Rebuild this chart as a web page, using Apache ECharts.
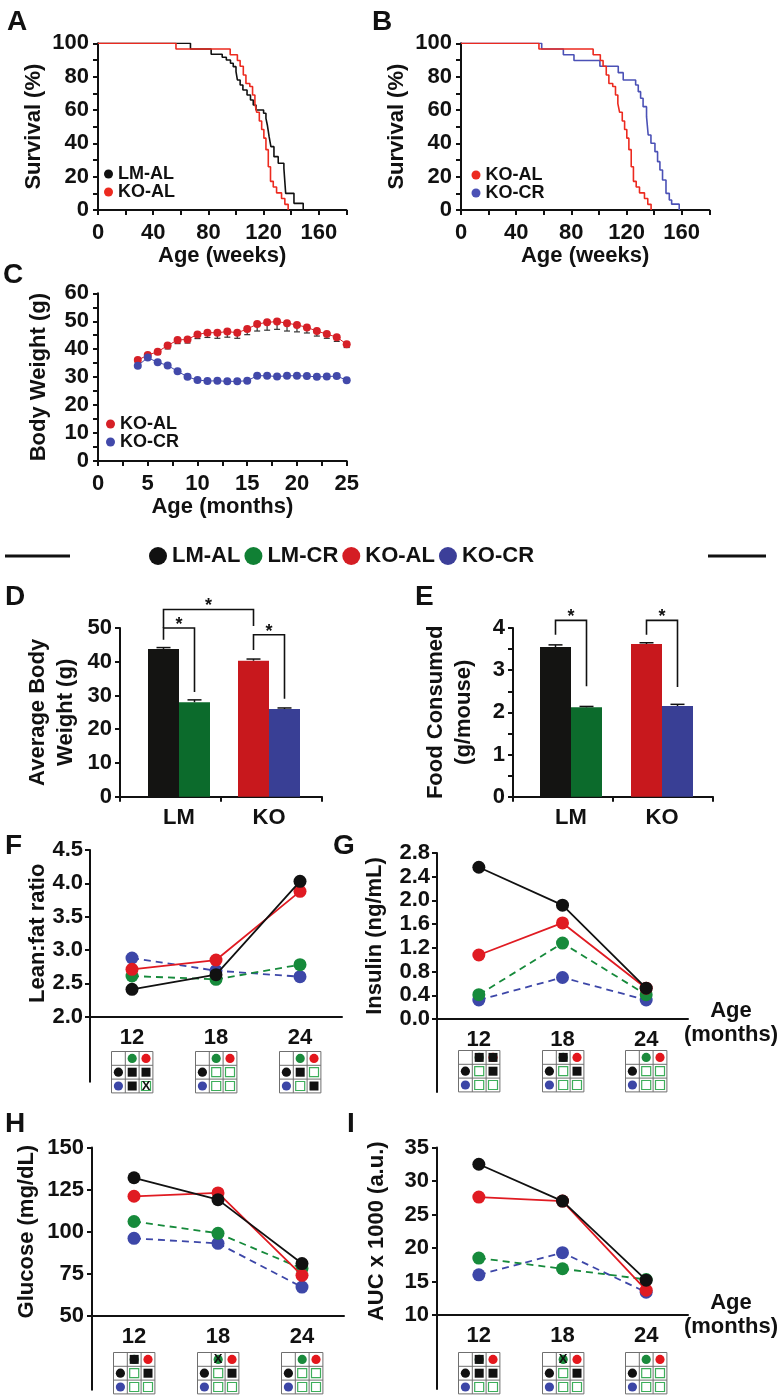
<!DOCTYPE html>
<html>
<head>
<meta charset="utf-8">
<script src="https://cdn.jsdelivr.net/npm/echarts@6/dist/echarts.min.js"></script>
<style>
html,body{margin:0;padding:0;background:#ffffff;}
#chart{width:780px;height:1397px;}
</style>
</head>
<body>
<div id="chart"></div>
<script>
// ================= DATA =================
// Panel A/B: Kaplan-Meier survival (weeks, % surviving after each step)
const survLMAL_t = [0, 67, 82, 90, 93, 96, 98, 100, 101, 103, 105, 108, 110.5, 112.5, 114.5, 120, 121.7, 122.7, 124, 125.3, 127.5, 130.6, 134.7, 136, 142, 148.7];
const survLMAL_s = [100, 96.6, 93.4, 91.6, 90, 88, 86, 83, 78, 75, 72, 69, 66, 63, 60, 58, 55, 51, 44, 38, 32, 28, 25, 10, 4, 0];
const survKOAL_t = [0, 56.5, 95.8, 101, 103, 105.3, 107.2, 110, 112, 113.7, 115, 116.9, 118.6, 120.2, 121.7, 123.4, 125, 127, 129.4, 133, 135.4, 137.8];
const survKOAL_s = [100, 96.6, 93.1, 89.7, 86.2, 81, 75.9, 74.1, 69, 63.8, 58.6, 53.4, 48.3, 43.1, 36.2, 25.9, 17.2, 13.8, 10.3, 6.9, 3.4, 0];
const survKOCR_t = [0, 58.5, 74.2, 81.9, 100.7, 114, 117.6, 126.6, 128.5, 130.2, 132, 134.5, 135.7, 137.7, 140.6, 142.5, 144.2, 146.1, 148.6, 151, 152.7, 158.2];
const survKOCR_s = [100, 96.6, 93.1, 89.7, 86.2, 82.4, 78, 75, 71, 67, 62, 56, 45, 40, 35, 29, 24, 18, 10, 6, 3.5, 0];

// Panel C: body weight by age (months)
const bwMonths  = [4, 5, 6, 7, 8, 9, 10, 11, 12, 13, 14, 15, 16, 17, 18, 19, 20, 21, 22, 23, 24, 25];
const bwKOAL    = [36.1, 37.9, 39.1, 41.3, 43.3, 43.5, 45.3, 45.9, 45.9, 46.3, 45.9, 47.2, 49.0, 49.6, 49.9, 49.3, 48.7, 47.8, 46.5, 45.4, 44.3, 41.8];
const bwKOALerr = [0.8, 0.9, 1.0, 1.2, 1.3, 1.3, 1.5, 1.7, 2.0, 2.0, 2.0, 2.0, 2.5, 2.8, 2.8, 2.8, 2.5, 2.0, 1.8, 1.5, 1.5, 1.2];
const bwKOCR    = [34.1, 37.0, 35.3, 34.2, 32.1, 30.1, 29.0, 28.6, 28.7, 28.5, 28.5, 28.7, 30.5, 30.5, 30.2, 30.5, 30.5, 30.4, 30.1, 30.2, 30.4, 28.9];

// Panels D/E: bar charts
const genotypes = ['LM', 'KO'];
const avgBW_AL    = [43.8, 40.3];
const avgBW_ALerr = [0.4, 0.5];
const avgBW_CR    = [28.0, 26.0];
const avgBW_CRerr = [0.7, 0.3];
const food_AL     = [3.55, 3.62];
const food_ALerr  = [0.05, 0.03];
const food_CR     = [2.12, 2.15];
const food_CRerr  = [0.02, 0.04];

// Panels F-I: age (months)
const ages = [12, 18, 24];
const leanFat_LMAL = [2.41, 2.63, 4.03];
const leanFat_LMCR = [2.61, 2.56, 2.78];
const leanFat_KOAL = [2.71, 2.85, 3.88];
const leanFat_KOCR = [2.88, 2.69, 2.60];
const insulin_LMAL = [2.56, 1.92, 0.52];
const insulin_LMCR = [0.41, 1.28, 0.41];
const insulin_KOAL = [1.08, 1.62, 0.52];
const insulin_KOCR = [0.32, 0.70, 0.32];
const glucose_LMAL = [132, 119, 81];
const glucose_LMCR = [106, 99, 78];
const glucose_KOAL = [121, 123, 74];
const glucose_KOCR = [96, 93, 67];
const auc_LMAL = [32.5, 27.0, 15.2];
const auc_LMCR = [18.5, 16.9, 15.3];
const auc_KOAL = [27.6, 27.0, 13.7];
const auc_KOCR = [16.0, 19.3, 13.4];

// Significance matrices per age: [LMCRhdr, KOALhdr, LMAL-LMCR, LMAL-KOAL, KOCR-LMCR, KOCR-KOAL]
// g/r = header dot, S = filled square, O = open square, X = cross, Sg/Sr/Xg = mark over header dot
const sigF = [['g','r','S','S','S','X'], ['g','r','O','O','O','O'], ['g','r','S','O','O','S']];
const sigG = [['Sg','Sr','O','S','O','O'], ['Sg','r','O','S','O','O'], ['g','r','O','O','O','O']];
const sigH = [['Sg','r','O','S','O','O'], ['Xg','r','O','S','O','O'], ['g','r','O','O','O','O']];
const sigI = [['Sg','r','S','S','O','O'], ['Xg','r','O','S','O','O'], ['g','r','O','O','O','O']];

// ================= STYLE =================
const FONT = '"Liberation Sans", Arial, Helvetica, sans-serif';
const K = '#111111';
const SURV_RED = '#ec2a1f', SURV_BLUE = '#4b51b6';
const C_RED = '#d62027', C_BLUE = '#4249aa';
const BAR_K = '#141412', BAR_G = '#0c6b2c', BAR_R = '#c8181d', BAR_B = '#393f95';
const L_K = '#111111', L_R = '#e01b22', L_G = '#168a3b', L_B = '#3d47a8';
const LEG_K = '#111111', LEG_G = '#108034', LEG_R = '#d41d24', LEG_B = '#3c3f99';
const DOT_G = '#1b8a3c', DOT_R = '#e3161c', DOT_B = '#3c46a6', OPEN_G = '#3dae5a';
const TICK_FS = 22, NAME_FS = 22;

const txt = (size, extra) => Object.assign({fontFamily: FONT, fontWeight: 'bold', fontSize: size, color: K}, extra || {});

function valAxis(g, min, max, interval, fmt, margin, extra) {
  return Object.assign({
    type: 'value', gridIndex: g, min: min, max: max, interval: interval,
    axisLine: {show: true, onZero: false, lineStyle: {color: K, width: 2}},
    axisTick: {show: true, length: 5, lineStyle: {color: K, width: 2}},
    axisLabel: Object.assign(txt(TICK_FS), {margin: margin, formatter: fmt}),
    splitLine: {show: false}
  }, extra || {});
}
function named(name, gap, extra) {
  return {name: name, nameLocation: 'middle', nameGap: gap, nameTextStyle: txt(NAME_FS, extra)};
}
const hiddenX = g => ({type: 'value', gridIndex: g, show: false, min: 0, max: 1});
const extY = g => ({type: 'value', gridIndex: g, min: 0, max: 1,
  axisLine: {show: true, onZero: false, lineStyle: {color: K, width: 2}},
  axisTick: {show: false}, axisLabel: {show: false}, splitLine: {show: false}});

const fmtSurvX = v => (v % 40 === 0 && v <= 160) ? String(v) : '';
const fmtSurvY = v => (v % 20 === 0) ? String(v) : '';
const fmtAge = v => ages.indexOf(v) >= 0 ? String(v) : '';

// ================= GRIDS =================
const grid = [
  {left: 98,  top: 43.3,   width: 248.4, height: 166.7},  // 0 A
  {left: 461, top: 43.3,   width: 248.3, height: 166.7},  // 1 B
  {left: 98,  top: 293.3,  width: 248.7, height: 167.7},  // 2 C
  {left: 120, top: 628,    width: 202,   height: 168.7},  // 3 D frame
  {left: 513, top: 628,    width: 200,   height: 168.7},  // 4 E frame
  {left: 90,  top: 850,    width: 252,   height: 166.7},  // 5 F
  {left: 437, top: 853,    width: 251,   height: 166},    // 6 G
  {left: 92,  top: 1147.5, width: 252,   height: 168.2},  // 7 H
  {left: 437, top: 1147.5, width: 251,   height: 167.5},  // 8 I
  {left: 90,  top: 1016.7, width: 1,     height: 65},     // 9 F ext
  {left: 437, top: 1019,   width: 1,     height: 73},     // 10 G ext
  {left: 92,  top: 1315.7, width: 1,     height: 74},     // 11 H ext
  {left: 437, top: 1315,   width: 1,     height: 74},     // 12 I ext
  {left: 134, top: 628,    width: 180,   height: 168.7},  // 13 D bars
  {left: 525.5, top: 628,  width: 182,   height: 168.7}   // 14 E bars
];
grid.forEach(g => { g.containLabel = false; g.outerBoundsMode = 'none'; });

const ageAxisLabel = Object.assign(txt(TICK_FS), {margin: 10, formatter: fmtAge});

const xAxis = [
  valAxis(0, 0, 180, 20, fmtSurvX, 12, named('Age (weeks)', 33)),
  valAxis(1, 0, 180, 20, fmtSurvX, 12, named('Age (weeks)', 33)),
  valAxis(2, 0, 25, 2.5, v => (v % 5 === 0 ? String(v) : ''), 12, named('Age (months)', 34)),
  {type: 'category', gridIndex: 3, data: genotypes,
   axisLine: {show: true, onZero: false, lineStyle: {color: K, width: 2}},
   axisTick: {show: true, length: 5, interval: 0, lineStyle: {color: K, width: 2}},
   axisLabel: {show: false}},
  {type: 'category', gridIndex: 4, data: genotypes,
   axisLine: {show: true, onZero: false, lineStyle: {color: K, width: 2}},
   axisTick: {show: true, length: 5, interval: 0, lineStyle: {color: K, width: 2}},
   axisLabel: {show: false}},
  valAxis(5, 9, 27, 3, fmtAge, 10, {axisTick: {show: false}, axisLabel: ageAxisLabel}),
  valAxis(6, 9, 27, 3, fmtAge, 10, {axisTick: {show: false}, axisLabel: ageAxisLabel}),
  valAxis(7, 9, 27, 3, fmtAge, 10, {axisTick: {show: false}, axisLabel: ageAxisLabel}),
  valAxis(8, 9, 27, 3, fmtAge, 10, {axisTick: {show: false}, axisLabel: ageAxisLabel}),
  hiddenX(9), hiddenX(10), hiddenX(11), hiddenX(12),
  {type: 'category', gridIndex: 13, data: genotypes, axisLine: {show: false}, axisTick: {show: false},
   axisLabel: Object.assign(txt(TICK_FS), {margin: 10})},
  {type: 'category', gridIndex: 14, data: genotypes, axisLine: {show: false}, axisTick: {show: false},
   axisLabel: Object.assign(txt(TICK_FS), {margin: 10})}
];

const hiddenY = (g, min, max) => ({type: 'value', gridIndex: g, min: min, max: max, show: false});
const yAxis = [
  valAxis(0, 0, 100, 10, fmtSurvY, 9, named('Survival (%)', 53)),
  valAxis(1, 0, 100, 10, fmtSurvY, 9, named('Survival (%)', 53)),
  valAxis(2, 0, 60, 5, v => (v % 10 === 0 ? String(v) : ''), 9, named('Body Weight (g)', 48)),
  valAxis(3, 0, 50, 10, v => String(v), 8, named('Average Body\nWeight (g)', 40, {lineHeight: 28})),
  valAxis(4, 0, 4, 0.5, v => (Number.isInteger(v) ? String(v) : ''), 8, named('Food Consumed\n(g/mouse)', 35, {lineHeight: 28})),
  valAxis(5, 2, 4.5, 0.5, v => v.toFixed(1), 7, named('Lean:fat ratio', 41)),
  valAxis(6, 0, 2.8, 0.4, v => v.toFixed(1), 7, named('Insulin (ng/mL)', 51)),
  valAxis(7, 50, 150, 25, v => String(v), 8, named('Glucose (mg/dL)', 54)),
  valAxis(8, 10, 35, 5, v => String(v), 8, named('AUC x 1000 (a.u.)', 49)),
  extY(9), extY(10), extY(11), extY(12),
  hiddenY(13, 0, 50), hiddenY(14, 0, 4)
];

// ================= SERIES =================
const series = [];
function surv(g, name, t, s, color) {
  return {type: 'line', name: name, xAxisIndex: g, yAxisIndex: g, step: 'end', showSymbol: false, symbol: 'none',
    data: t.map((x, i) => [x, s[i]]), lineStyle: {color: color, width: 1.6}, itemStyle: {color: color}, silent: true, animation: false};
}
series.push(surv(0, 'LM-AL', survLMAL_t, survLMAL_s, K));
series.push(surv(0, 'KO-AL', survKOAL_t, survKOAL_s, SURV_RED));
series.push(surv(1, 'KO-CR', survKOCR_t, survKOCR_s, SURV_BLUE));
series.push(surv(1, 'KO-AL', survKOAL_t, survKOAL_s, SURV_RED));

// Panel C error bars (downward) + lines
series.push({type: 'custom', xAxisIndex: 2, yAxisIndex: 2, silent: true, z: 1,
  data: bwMonths.map((m, i) => [m, bwKOAL[i], bwKOALerr[i]]),
  renderItem: function (params, api) {
    const p = api.coord([api.value(0), api.value(1)]);
    const q = api.coord([api.value(0), api.value(1) - api.value(2)]);
    return {type: 'group', children: [
      {type: 'line', shape: {x1: p[0], y1: p[1], x2: q[0], y2: q[1]}, style: {stroke: '#333', lineWidth: 1.2}},
      {type: 'line', shape: {x1: q[0] - 3, y1: q[1], x2: q[0] + 3, y2: q[1]}, style: {stroke: '#333', lineWidth: 1.2}}
    ]};
  }});
series.push({type: 'line', name: 'KO-AL', xAxisIndex: 2, yAxisIndex: 2, data: bwMonths.map((m, i) => [m, bwKOAL[i]]),
  symbol: 'circle', symbolSize: 8, lineStyle: {color: C_RED, width: 1}, itemStyle: {color: C_RED}, z: 3, animation: false});
series.push({type: 'line', name: 'KO-CR', xAxisIndex: 2, yAxisIndex: 2, data: bwMonths.map((m, i) => [m, bwKOCR[i]]),
  symbol: 'circle', symbolSize: 8, lineStyle: {color: C_BLUE, width: 1}, itemStyle: {color: C_BLUE}, z: 3, animation: false});

// Panels D/E bars
const BARW = 31;
function bars(g, name, vals, colors) {
  return {type: 'bar', name: name, xAxisIndex: g, yAxisIndex: g, barWidth: BARW, barGap: '0%',
    data: vals.map((v, i) => ({value: v, itemStyle: {color: colors[i]}})), animation: false, z: 2};
}
function barErr(g, al, alErr, cr, crErr) {
  const data = [];
  al.forEach((v, i) => data.push([i, v, alErr[i], -1]));
  cr.forEach((v, i) => data.push([i, v, crErr[i], 1]));
  return {type: 'custom', xAxisIndex: g, yAxisIndex: g, silent: true, z: 3, data: data,
    renderItem: function (params, api) {
      const x = api.coord([api.value(0), 0])[0] + api.value(3) * BARW / 2;
      const y1 = api.coord([0, api.value(1)])[1];
      const y2 = api.coord([0, api.value(1) + api.value(2)])[1];
      return {type: 'group', children: [
        {type: 'line', shape: {x1: x, y1: y1, x2: x, y2: y2}, style: {stroke: K, lineWidth: 1.5}},
        {type: 'line', shape: {x1: x - 7, y1: y2, x2: x + 7, y2: y2}, style: {stroke: K, lineWidth: 1.5}}
      ]};
    }};
}
function brackets(g, list) {
  return {type: 'custom', xAxisIndex: g, yAxisIndex: g, silent: true, clip: false, z: 4, data: list,
    renderItem: function (params, api) {
      const xA = api.coord([api.value(0), 0])[0] + api.value(1) * BARW / 2;
      const xB = api.coord([api.value(2), 0])[0] + api.value(3) * BARW / 2;
      const yT = api.coord([0, api.value(4)])[1];
      const yA = api.coord([0, api.value(5)])[1];
      const yB = api.coord([0, api.value(6)])[1];
      return {type: 'group', children: [
        {type: 'polyline', shape: {points: [[xA, yA], [xA, yT], [xB, yT], [xB, yB]]}, style: {stroke: K, lineWidth: 1.6, fill: null}},
        {type: 'text', x: (xA + xB) / 2, y: yT - 3, style: {text: '*', fill: K, fontSize: 18, fontWeight: 'bold', fontFamily: FONT, align: 'center', verticalAlign: 'middle'}}
      ]};
    }};
}
series.push(bars(13, 'AL', avgBW_AL, [BAR_K, BAR_R]));
series.push(bars(13, 'CR', avgBW_CR, [BAR_G, BAR_B]));
series.push(barErr(13, avgBW_AL, avgBW_ALerr, avgBW_CR, avgBW_CRerr));
// [fromCat, fromSide, toCat, toSide, top, fromEnd, toEnd]
series.push(brackets(13, [[0, -1, 1, -1, 55.5, 50, 50.6], [0, -1, 0, 1, 50, 46.5, 31], [1, -1, 1, 1, 48, 43.5, 29]]));
series.push(bars(14, 'AL', food_AL, [BAR_K, BAR_R]));
series.push(bars(14, 'CR', food_CR, [BAR_G, BAR_B]));
series.push(barErr(14, food_AL, food_ALerr, food_CR, food_CRerr));
series.push(brackets(14, [[0, -1, 0, 1, 4.18, 3.84, 2.62], [1, -1, 1, 1, 4.18, 3.84, 2.6]]));

// Panels F-I lines
function ageLine(g, name, vals, color, dashed, z) {
  return {type: 'line', name: name, xAxisIndex: g, yAxisIndex: g, data: ages.map((a, i) => [a, vals[i]]),
    symbol: 'circle', symbolSize: 13, lineStyle: {color: color, width: 1.8, type: dashed ? [7, 5] : 'solid'},
    itemStyle: {color: color}, z: z, animation: false};
}
function panelLines(g, lmal, lmcr, koal, kocr) {
  series.push(ageLine(g, 'KO-CR', kocr, L_B, true, 3));
  series.push(ageLine(g, 'LM-CR', lmcr, L_G, true, 4));
  series.push(ageLine(g, 'KO-AL', koal, L_R, false, 5));
  series.push(ageLine(g, 'LM-AL', lmal, L_K, false, 6));
}
panelLines(5, leanFat_LMAL, leanFat_LMCR, leanFat_KOAL, leanFat_KOCR);
panelLines(6, insulin_LMAL, insulin_LMCR, insulin_KOAL, insulin_KOCR);
panelLines(7, glucose_LMAL, glucose_LMCR, glucose_KOAL, glucose_KOCR);
panelLines(8, auc_LMAL, auc_LMCR, auc_KOAL, auc_KOCR);

// Significance boxes under the x axis of F-I
const CELL = 13.8;
function boxSeries(g, sig, yMin, gap) {
  return {type: 'custom', xAxisIndex: g, yAxisIndex: g, silent: true, clip: false, z: 10,
    data: ages.map((a, i) => [a, yMin, i]),
    renderItem: function (params, api) {
      const p = api.coord([api.value(0), api.value(1)]);
      const x0 = Math.round(p[0] - CELL * 1.5) + 0.5;
      const y0 = Math.round(p[1] + gap) + 0.5;
      const codes = sig[api.value(2)];
      const ch = [];
      for (let k = 0; k <= 3; k++) {
        ch.push({type: 'line', shape: {x1: x0, y1: y0 + k * CELL, x2: x0 + 3 * CELL, y2: y0 + k * CELL}, style: {stroke: '#6f6f6f', lineWidth: 1}});
        ch.push({type: 'line', shape: {x1: x0 + k * CELL, y1: y0, x2: x0 + k * CELL, y2: y0 + 3 * CELL}, style: {stroke: '#6f6f6f', lineWidth: 1}});
      }
      const cx = c => x0 + (c + 0.5) * CELL;
      const cy = r => y0 + (r + 0.5) * CELL;
      const dot = (r, c, col) => ch.push({type: 'circle', shape: {cx: cx(c), cy: cy(r), r: 4.6}, style: {fill: col}});
      const sq = (r, c) => ch.push({type: 'rect', shape: {x: cx(c) - 4.5, y: cy(r) - 4.5, width: 9, height: 9}, style: {fill: K}});
      const open = (r, c) => ch.push({type: 'rect', shape: {x: cx(c) - 4.5, y: cy(r) - 4.5, width: 9, height: 9}, style: {fill: null, stroke: OPEN_G, lineWidth: 1.2}});
      const cross = (r, c) => ch.push({type: 'text', x: cx(c), y: cy(r) + 0.5, style: {text: 'X', fill: K, fontSize: 13, fontWeight: 'bold', fontFamily: FONT, align: 'center', verticalAlign: 'middle'}});
      dot(1, 0, K); dot(2, 0, DOT_B);
      const pos = [[0, 1], [0, 2], [1, 1], [1, 2], [2, 1], [2, 2]];
      codes.forEach((code, k) => {
        const r = pos[k][0], c = pos[k][1];
        if (code === 'g') dot(r, c, DOT_G);
        else if (code === 'r') dot(r, c, DOT_R);
        else if (code === 'Sg') { dot(r, c, DOT_G); sq(r, c); }
        else if (code === 'Sr') { dot(r, c, DOT_R); sq(r, c); }
        else if (code === 'Xg') { dot(r, c, DOT_G); cross(r, c); }
        else if (code === 'S') sq(r, c);
        else if (code === 'O') open(r, c);
        else if (code === 'X') { open(r, c); cross(r, c); }
      });
      return {type: 'group', children: ch};
    }};
}
series.push(boxSeries(5, sigF, 2, 34));
series.push(boxSeries(6, sigG, 0, 31));
series.push(boxSeries(7, sigH, 50, 36));
series.push(boxSeries(8, sigI, 10, 36.5));

// ================= LEGENDS =================
const legText = size => ({fontFamily: FONT, fontWeight: 'bold', fontSize: size, lineHeight: size, color: K});
function smallLegend(items, left, top) {
  return {data: items, orient: 'vertical', left: left, top: top, icon: 'circle', itemWidth: 9, itemHeight: 9,
    itemGap: 0, padding: 0, selectedMode: false, textStyle: legText(18)};
}
const legend = [
  smallLegend([{name: 'LM-AL', itemStyle: {color: K}}, {name: 'KO-AL', itemStyle: {color: SURV_RED}}], 104, 165),
  smallLegend([{name: 'KO-AL', itemStyle: {color: SURV_RED}}, {name: 'KO-CR', itemStyle: {color: SURV_BLUE}}], 471.5, 166),
  smallLegend([{name: 'KO-AL', itemStyle: {color: C_RED}}, {name: 'KO-CR', itemStyle: {color: C_BLUE}}], 106, 415),
  {data: [{name: 'LM-AL', itemStyle: {color: LEG_K}}, {name: 'LM-CR', itemStyle: {color: LEG_G}},
          {name: 'KO-AL', itemStyle: {color: LEG_R}}, {name: 'KO-CR', itemStyle: {color: LEG_B}}],
   orient: 'horizontal', left: 149, top: 545, icon: 'circle', itemWidth: 18, itemHeight: 18, itemGap: 4,
   padding: 0, selectedMode: false, textStyle: legText(22)}
];

// ================= GRAPHIC (panel letters, rules, age captions) =================
const letter = (t, x, y) => ({type: 'text', left: x, top: y, style: {text: t, fill: K, font: 'bold 28px ' + FONT}});
const ageCaption = (cx, cy) => ({type: 'text', x: cx, y: cy,
  style: {text: 'Age\n(months)', fill: K, font: 'bold 22px ' + FONT, lineHeight: 24, align: 'center', verticalAlign: 'middle'}});
const graphic = [
  letter('A', 7, 8), letter('B', 372, 8), letter('C', 3, 261), letter('D', 5, 583), letter('E', 415, 583),
  letter('F', 5, 832), letter('G', 333, 832), letter('H', 5, 1110), letter('I', 347, 1110),
  {type: 'line', shape: {x1: 5, y1: 556, x2: 70, y2: 556}, style: {stroke: K, lineWidth: 3}},
  {type: 'line', shape: {x1: 708, y1: 556, x2: 766, y2: 556}, style: {stroke: K, lineWidth: 3}},
  ageCaption(731, 1023), ageCaption(731, 1315)
];

const chart = echarts.init(document.getElementById('chart'), null, {renderer: 'canvas', width: 780, height: 1397});
chart.setOption({
  animation: false,
  backgroundColor: '#ffffff',
  grid: grid, xAxis: xAxis, yAxis: yAxis, series: series, legend: legend, graphic: graphic
});
</script>
</body>
</html>
